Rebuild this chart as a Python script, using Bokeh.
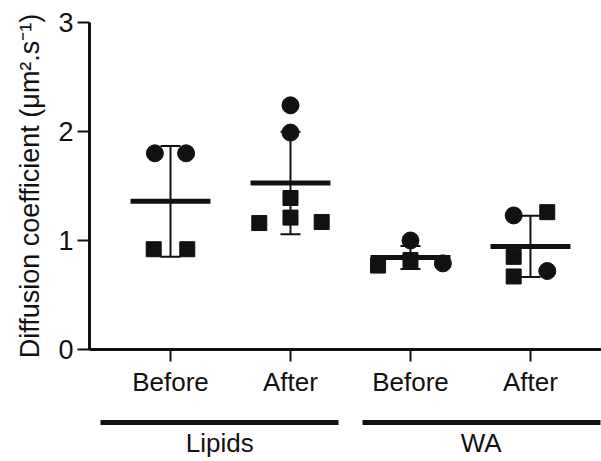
import numpy as np
from bokeh.plotting import figure
from bokeh.models import (ColumnDataSource, Range1d, FixedTicker, LinearAxis,
                          Whisker, TeeHead)
from bokeh.embed import file_html
from bokeh.resources import INLINE

# ---------------- data ----------------
categories = ["Before", "After", "Before", "After"]
groups = ["Lipids", "WA"]
circle_values = [[1.80, 1.80], [2.24, 1.99], [1.00, 0.79], [1.23, 0.72]]
square_values = [[0.92, 0.92], [1.39, 1.21, 1.16, 1.17], [0.77, 0.82], [1.26, 0.85, 0.67]]
y_ticks = [0, 1, 2, 3]
y_label = "Diffusion coefficient (\u03bcm\u00b2.s\u207b\u00b9)"

# horizontal spread of overlapping points (layout only, in category widths)
circle_offsets = [[-0.13, 0.13], [0.0, 0.0], [0.0, 0.27], [-0.14, 0.14]]
square_offsets = [[-0.14, 0.14], [0.0, 0.0, -0.26, 0.26], [-0.27, 0.0], [0.14, -0.14, -0.14]]
group_centers = [1.41, 3.59]

FONT = "Liberation Sans"
INK = "#111111"

positions = list(range(1, len(categories) + 1))

cx, cy, sx, sy = [], [], [], []
for pos, vals, offs in zip(positions, circle_values, circle_offsets):
    cx += [pos + o for o in offs]
    cy += vals
for pos, vals, offs in zip(positions, square_values, square_offsets):
    sx += [pos + o for o in offs]
    sy += vals

means, sds = [], []
for cv, sv in zip(circle_values, square_values):
    allv = np.array(cv + sv)
    means.append(allv.mean())
    sds.append(allv.std(ddof=1))
means = np.array(means)
sds = np.array(sds)

stats = ColumnDataSource(dict(
    x=positions,
    mean=means,
    lo=means - sds,
    hi=means + sds,
    x0=[p - 0.333 for p in positions],
    x1=[p + 0.333 for p in positions],
))

p = figure(width=601, height=461, output_backend="svg", toolbar_location=None,
           x_range=Range1d(0.325, 4.592), y_range=Range1d(0, 3),
           min_border_left=89, min_border_right=0, min_border_top=22,
           min_border_bottom=112)
p.outline_line_color = None
p.grid.visible = False
p.background_fill_color = "white"
p.border_fill_color = "white"

# points
p.scatter(cx, cy, marker="circle", size=17, fill_color=INK, line_color=INK)
p.scatter(sx, sy, marker="square", size=15, fill_color=INK, line_color=INK)

# SD error bars
p.add_layout(Whisker(source=stats, base="x", lower="lo", upper="hi",
                     dimension="height", line_width=2, line_color=INK,
                     lower_head=TeeHead(size=20, line_width=2, line_color=INK),
                     upper_head=TeeHead(size=20, line_width=2, line_color=INK)))
# mean lines
p.segment(x0="x0", y0="mean", x1="x1", y1="mean", source=stats,
          line_width=5, line_color=INK)

# y axis
ya = p.yaxis[0]
ya.ticker = FixedTicker(ticks=y_ticks)
ya.bounds = (0, 3)
ya.axis_label = y_label
ya.axis_label_text_font = FONT
ya.axis_label_text_font_style = "normal"
ya.axis_label_text_font_size = "27px"
ya.axis_label_text_color = INK
ya.axis_label_standoff = 10
ya.major_label_text_font = FONT
ya.major_label_text_font_size = "27px"
ya.major_label_text_color = INK
ya.major_label_standoff = 4
ya.axis_line_width = 3
ya.axis_line_color = INK
ya.major_tick_line_width = 2
ya.major_tick_line_color = INK
ya.major_tick_out = 12
ya.major_tick_in = 0
ya.minor_tick_out = 0
ya.minor_tick_in = 0

# x axis (categories)
xa = p.xaxis[0]
xa.ticker = FixedTicker(ticks=positions)
xa.major_label_overrides = {pos: lab for pos, lab in zip(positions, categories)}
xa.major_label_text_font = FONT
xa.major_label_text_font_size = "26px"
xa.major_label_text_color = INK
xa.major_label_standoff = 5
xa.axis_line_width = 3
xa.axis_line_color = INK
xa.major_tick_line_width = 2
xa.major_tick_line_color = INK
xa.major_tick_out = 12
xa.major_tick_in = 0
xa.minor_tick_out = 0
xa.minor_tick_in = 0
xa.axis_label = " "
xa.axis_label_text_font_size = "10px"
xa.axis_label_standoff = 9

# group axis (Lipids / WA with underline bars)
ga = LinearAxis(ticker=FixedTicker(ticks=group_centers),
                major_label_overrides={c: g for c, g in zip(group_centers, groups)},
                bounds=(0.417, 4.592))
ga.major_label_text_font = FONT
ga.major_label_text_font_size = "26px"
ga.major_label_text_color = INK
ga.major_label_standoff = 5
ga.axis_line_width = 5
ga.axis_line_color = INK
ga.axis_line_dash = "238 24"
ga.major_tick_out = 0
ga.major_tick_in = 0
ga.minor_tick_out = 0
ga.minor_tick_in = 0
p.add_layout(ga, "below")

open("out.html", "w").write(file_html(p, INLINE))
